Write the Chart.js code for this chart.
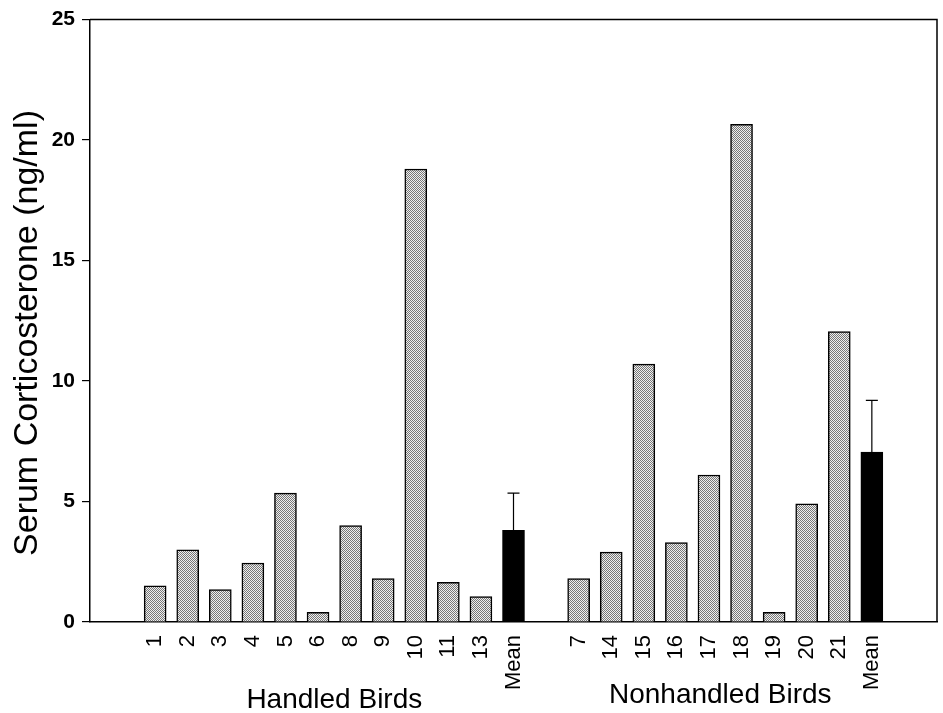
<!DOCTYPE html>
<html>
<head>
<meta charset="utf-8">
<script src="https://cdn.jsdelivr.net/npm/chart.js@4.4.0/dist/chart.umd.min.js"></script>
<style>
  html, body { margin: 0; padding: 0; background: #fff; }
  #wrap { width: 943px; height: 713px; }
</style>
</head>
<body>
<div id="wrap"><canvas id="chart" width="943" height="713"></canvas></div>
<script>
// Handled birds
const handledBirds = ['1', '2', '3', '4', '5', '6', '8', '9', '10', '11', '13'];
const handledValues = [1.5, 3.0, 1.35, 2.45, 5.35, 0.4, 4.0, 1.8, 18.8, 1.65, 1.05];
const handledMean = 3.8;
const handledMeanUpper = 5.35;

// Nonhandled birds
const nonhandledBirds = ['7', '14', '15', '16', '17', '18', '19', '20', '21'];
const nonhandledValues = [1.8, 2.9, 10.7, 3.3, 6.1, 20.65, 0.4, 4.9, 12.05];
const nonhandledMean = 7.05;
const nonhandledMeanUpper = 9.2;

const groupTitles = ['Handled Birds', 'Nonhandled Birds'];
const yTitle = 'Serum Corticosterone (ng/ml)';
const yTicks = [0, 5, 10, 15, 20, 25];

// build the category slots: 2 empty, handled, gap, nonhandled, 2 empty
const labels = [];
const values = [];
const upper = [];
const isMean = [];
function pushSlot(lab, v, up, mean) {
  labels.push(lab); values.push(v); upper.push(up); isMean.push(mean);
}
pushSlot('', null, null, false);
pushSlot('', null, null, false);
handledBirds.forEach((b, i) => pushSlot(b, handledValues[i], null, false));
pushSlot('Mean', handledMean, handledMeanUpper, true);
pushSlot('', null, null, false);
nonhandledBirds.forEach((b, i) => pushSlot(b, nonhandledValues[i], null, false));
pushSlot('Mean', nonhandledMean, nonhandledMeanUpper, true);
pushSlot('', null, null, false);
pushSlot('', null, null, false);

// stipple fill like the printed figure
function makePattern() {
  const c = document.createElement('canvas');
  c.width = 2; c.height = 2;
  const g = c.getContext('2d');
  g.fillStyle = '#efefef';
  g.fillRect(0, 0, 2, 2);
  g.fillStyle = '#777';
  g.fillRect(0, 0, 1, 1);
  g.fillRect(1, 1, 1, 1);
  return g.createPattern(c, 'repeat');
}
const stipple = makePattern();
const FONT = '"Liberation Sans", Arial, sans-serif';

const framePlugin = {
  id: 'frame',
  afterDatasetsDraw(chart) {
    const ctx = chart.ctx;
    const a = chart.chartArea;
    const y = chart.scales.y;
    const meta = chart.getDatasetMeta(0);
    ctx.save();
    // top and right border
    ctx.strokeStyle = '#000';
    ctx.lineWidth = 1.5;
    ctx.beginPath();
    ctx.moveTo(a.left, a.top);
    ctx.lineTo(a.right, a.top);
    ctx.lineTo(a.right, a.bottom);
    ctx.stroke();
    // error bars (upper only)
    ctx.lineWidth = 1.2;
    upper.forEach((u, i) => {
      if (u == null) return;
      const bar = meta.data[i];
      const yTop = y.getPixelForValue(u);
      ctx.beginPath();
      ctx.moveTo(bar.x, bar.y);
      ctx.lineTo(bar.x, yTop);
      ctx.moveTo(bar.x - 6, yTop);
      ctx.lineTo(bar.x + 6, yTop);
      ctx.stroke();
    });
    ctx.restore();
  },
  afterDraw(chart) {
    const ctx = chart.ctx;
    const x = chart.scales.x;
    const h0 = x.getPixelForValue(2);
    const h1 = x.getPixelForValue(2 + handledBirds.length);
    const n0 = x.getPixelForValue(4 + handledBirds.length);
    const n1 = x.getPixelForValue(4 + handledBirds.length + nonhandledBirds.length);
    ctx.save();
    ctx.fillStyle = '#000';
    ctx.font = '28px ' + FONT;
    ctx.textAlign = 'center';
    ctx.textBaseline = 'middle';
    ctx.fillText(groupTitles[0], (h0 + h1) / 2, 700);
    ctx.fillText(groupTitles[1], (n0 + n1) / 2 - 5, 695);
    // y title
    ctx.font = '34px ' + FONT;
    ctx.translate(28, 333);
    ctx.rotate(-Math.PI / 2);
    ctx.fillText(yTitle, 0, 0);
    ctx.restore();
  }
};

new Chart(document.getElementById('chart'), {
  type: 'bar',
  data: {
    labels: labels,
    datasets: [{
      data: values,
      backgroundColor: isMean.map(m => m ? '#000' : stipple),
      borderColor: '#000',
      borderWidth: 1.5,
      borderSkipped: 'bottom',
      barThickness: 22
    }]
  },
  options: {
    responsive: false,
    animation: false,
    layout: { padding: { top: 13, right: 6, left: 0, bottom: 0 } },
    plugins: { legend: { display: false }, tooltip: { enabled: false } },
    scales: {
      x: {
        offset: false,
        grid: { display: false },
        border: { display: true, color: '#000', width: 1.5 },
        ticks: {
          autoSkip: false,
          maxRotation: 90,
          minRotation: 90,
          padding: 5,
          color: '#000',
          font: { family: FONT, size: 22 }
        },
        afterFit(scale) {
          scale.height = 91;
          scale.paddingLeft = 0;
          scale.paddingRight = 0;
        }
      },
      y: {
        min: 0,
        max: 25,
        afterBuildTicks(scale) { scale.ticks = yTicks.map(v => ({ value: v })); },
        grid: { display: true, drawOnChartArea: false, tickLength: 8, color: '#000', lineWidth: 1.2 },
        border: { display: true, color: '#000', width: 1.5 },
        ticks: {
          padding: 7,
          color: '#000',
          font: { family: FONT, size: 21, weight: 'bold' }
        },
        afterFit(scale) { scale.width = 90; }
      }
    }
  },
  plugins: [framePlugin]
});
</script>
</body>
</html>
